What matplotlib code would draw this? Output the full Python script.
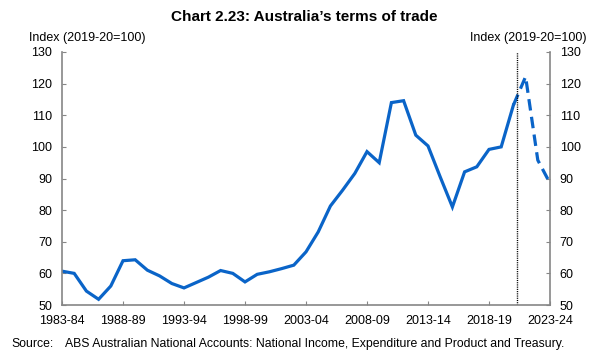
import matplotlib.pyplot as plt

plt.rcParams['font.family'] = ['Liberation Sans', 'DejaVu Sans']

# financial years 1983-84 .. 2023-24
years = [f"{y}-{(y + 1) % 100:02d}" for y in range(1983, 2024)]

# actual outcomes, 1983-84 .. 2020-21
actual = [60.7, 60.0, 54.4, 51.8, 56.0, 64.0, 64.3, 61.0, 59.2, 56.8,
          55.4, 57.1, 58.8, 60.9, 60.0, 57.3, 59.7, 60.5, 61.5, 62.6,
          66.8, 73.1, 81.3, 86.3, 91.6, 98.5, 95.0, 114.0, 114.6, 103.7,
          100.3, 90.5, 81.0, 92.1, 93.7, 99.2, 100.0, 113.2]

# forecasts, 2020-21 .. 2023-24
forecast = [113.2, 122.2, 95.8, 88.5]

tick_labels = years[::5]

blue = '#0a64c8'
grey = '#868686'

fig = plt.figure(figsize=(6.02, 3.58), dpi=100)
ax = fig.add_axes([62 / 602, 1 - 305 / 358, 488 / 602, 253 / 358])

x_act = list(range(len(actual)))
x_fc = list(range(len(actual) - 1, len(actual) - 1 + len(forecast)))

ax.plot(x_act, actual, color=blue, lw=2.3, solid_joinstyle='miter')
ax.plot(x_fc, forecast, color=blue, lw=2.3, dashes=(3.6, 2.0))
ax.axvline(37.3, color='black', lw=1.0, ls=(0, (0.8, 0.8)))

ax.set_xlim(0, len(years) - 1)
ax.set_ylim(50, 130)
ax.set_yticks(range(50, 131, 10))
ax.set_xticks(range(0, len(years), 5))
ax.set_xticklabels(tick_labels)

for side in ['left', 'right', 'bottom']:
    ax.spines[side].set_color(grey)
    ax.spines[side].set_linewidth(1.2)
ax.spines['top'].set_visible(False)

ax.tick_params(axis='y', direction='in', length=3, color=grey,
               left=True, right=True, labelleft=True, labelright=True,
               labelsize=9, pad=7)
ax.tick_params(axis='x', direction='in', length=3, color=grey,
               labelsize=9, pad=7)

fig.text(304 / 602, 1 - 17 / 358, "Chart 2.23: Australia\u2019s terms of trade",
         ha='center', va='center', fontsize=11, fontweight='bold')
fig.text(29 / 602, 1 - 38 / 358, "Index (2019-20=100)", ha='left', va='center',
         fontsize=9)
fig.text(587 / 602, 1 - 38 / 358, "Index (2019-20=100)", ha='right', va='center',
         fontsize=9)
fig.text(11 / 602, 1 - 344 / 358, "Source:", ha='left', va='center', fontsize=8.8)
fig.text(65 / 602, 1 - 344 / 358,
         "ABS Australian National Accounts: National Income, Expenditure and Product and Treasury.",
         ha='left', va='center', fontsize=8.8)

fig.savefig('out.png', dpi=100)
